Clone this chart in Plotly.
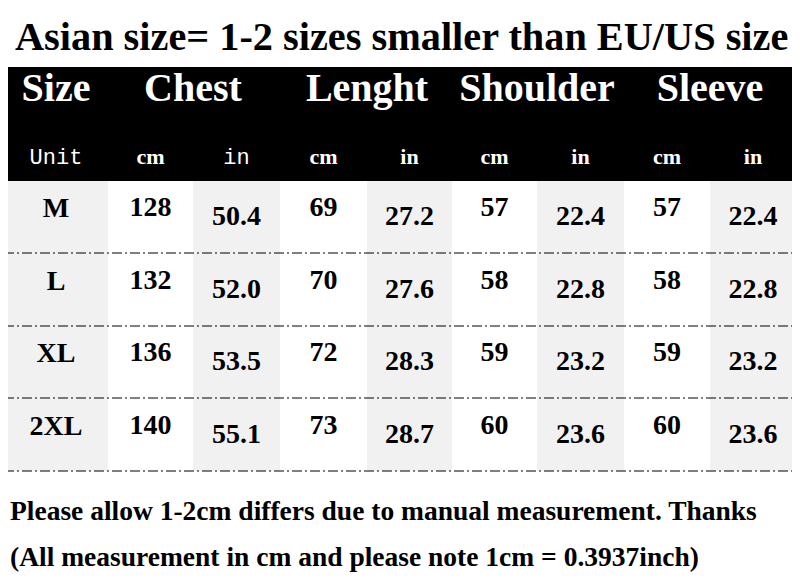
import plotly.graph_objects as go

#### datos de la tabla de tallas ####
sizes = ["M", "L", "XL", "2XL"]
chest_cm = [128, 132, 136, 140]
chest_in = [50.4, 52.0, 53.5, 55.1]
length_cm = [69, 70, 72, 73]
length_in = [27.2, 27.6, 28.3, 28.7]
shoulder_cm = [57, 58, 59, 60]
shoulder_in = [22.4, 22.8, 23.2, 23.6]
sleeve_cm = [57, 58, 59, 60]
sleeve_in = [22.4, 22.8, 23.2, 23.6]

groups = ["Size", "Chest", "Lenght", "Shoulder", "Sleeve"]
units = ["Unit", "cm", "in", "cm", "in", "cm", "in", "cm", "in"]

title = "Asian size= 1-2 sizes smaller than EU/US size"
note1 = "Please allow 1-2cm differs due to manual measurement. Thanks"
note2 = "(All measurement in cm and please note 1cm = 0.3937inch)"

#### geometria (pixeles de la imagen) ####
col_edges = [4, 108, 193, 280, 367, 452, 537, 624, 710, 796]
row_edges = [67, 181, 253, 326, 398, 471]
col_mid = [(a + b) / 2 for a, b in zip(col_edges[:-1], col_edges[1:])]
row_mid = [(a + b) / 2 for a, b in zip(row_edges[1:-1], row_edges[2:])]

pad = 8  # margen por defecto del <body> en la pagina html
serif = "Liberation Serif"
mono = "Liberation Mono"

fig = go.Figure()

## fondo: cabecera negra y columnas alternadas gris / blanco
z = [[2] * 9] + [[1, 0, 1, 0, 1, 0, 1, 0, 1] for _ in sizes]
fig.add_trace(go.Heatmap(x=col_edges, y=row_edges, z=z, zmin=0, zmax=2,
                         colorscale=[[0, "white"], [0.5, "#f1f1f1"], [1, "black"]],
                         showscale=False, hoverinfo="skip"))

## cabecera
grp_x = [col_mid[0], col_edges[2], col_edges[4], col_edges[6], col_edges[8]]
fig.add_trace(go.Scatter(x=grp_x, y=[91] * len(groups), text=groups, mode="text",
                         textfont=dict(family=serif, size=40, color="white", weight="bold"),
                         hoverinfo="skip"))
for i, u in enumerate(units):
    if u == "Unit" or i == 2:
        f = dict(family=mono, size=22, color="white", weight="normal")
    else:
        f = dict(family=serif, size=22, color="white", weight="bold")
    fig.add_trace(go.Scatter(x=[col_mid[i]], y=[158], text=[u], mode="text",
                             textfont=f, hoverinfo="skip"))

## valores
cols = [sizes, chest_cm, chest_in, length_cm, length_in, shoulder_cm, shoulder_in, sleeve_cm, sleeve_in]
for j, col in enumerate(cols):
    if j == 0:
        txt, off = col, -7
    elif j % 2 == 1:
        txt, off = [str(v) for v in col], -8
    else:
        txt, off = [f"{v:.1f}" for v in col], 1
    fig.add_trace(go.Scatter(x=[col_mid[j]] * len(col), y=[r + off for r in row_mid], text=txt,
                             mode="text", hoverinfo="skip",
                             textfont=dict(family=serif, size=28, color="black", weight="bold")))

## lineas punteadas entre filas
for y in row_edges[2:]:
    fig.add_shape(type="line", x0=col_edges[0], x1=col_edges[-1], y0=y, y1=y,
                  line=dict(color="black", width=1, dash="10px,3px,2px,3px"))

fig.add_annotation(x=401, y=36, text=title, showarrow=False,
                   font=dict(family=serif, size=40.3, color="black", weight="bold"))
fig.add_annotation(x=8, y=510, text=note1, showarrow=False, xanchor="left",
                   font=dict(family=serif, size=27.5, color="black", weight="bold"))
fig.add_annotation(x=8, y=556, text=note2, showarrow=False, xanchor="left",
                   font=dict(family=serif, size=27.5, color="black", weight="bold"))

fig.update_layout(width=800 - pad, height=584 - pad, margin=dict(l=0, r=0, t=0, b=0),
                  plot_bgcolor="white", paper_bgcolor="white", showlegend=False,
                  xaxis=dict(range=[pad, 800], visible=False, fixedrange=True),
                  yaxis=dict(range=[584, pad], visible=False, fixedrange=True))

fig.write_html("out.html")
